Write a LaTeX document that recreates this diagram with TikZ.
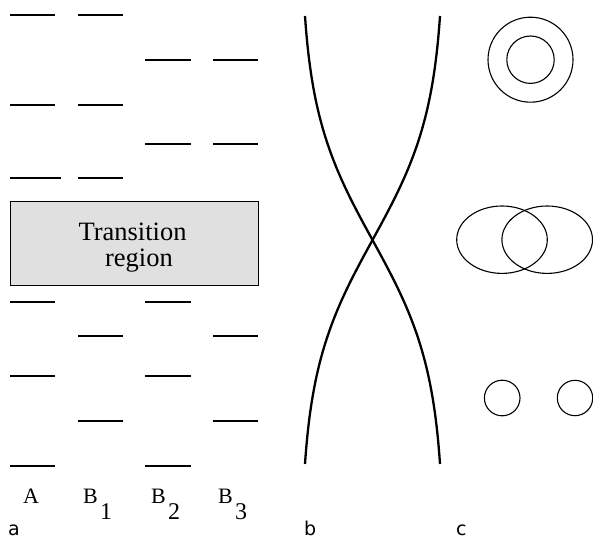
\documentclass[tikz,border=0pt]{standalone}
\usepackage{fontspec}
\setmainfont{Liberation Serif}
\newfontfamily\labfont{DejaVu Sans}
\begin{document}
\begin{tikzpicture}[x=1pt,y=-1pt,
  level/.style={line width=2.7pt},
  curve/.style={line width=2.3pt},
  orb/.style={line width=1.1pt},
  lab/.style={font=\fontsize{22}{24}\selectfont, anchor=base west, inner sep=0pt},
  sub/.style={font=\fontsize{24}{26}\selectfont, anchor=base west, inner sep=0pt},
  panel/.style={font=\labfont\fontsize{19}{21}\selectfont, anchor=base west, inner sep=0pt}]
\useasboundingbox (0,0) rectangle (593,540);
% panel a: levels
\foreach \y in {15,105} \draw[level] (10,\y) -- (55,\y);
\draw[level] (10,178) -- (61,178);
\foreach \y in {302,376,466} \draw[level] (10,\y) -- (55,\y);
\foreach \y in {15,105,178,336,421} \draw[level] (78,\y) -- (123,\y);
\foreach \y in {60,144,302,376,466} \draw[level] (145,\y) -- (191,\y);
\foreach \y in {60,144,336,421} \draw[level] (213,\y) -- (258,\y);
% transition box
\node[draw, line width=1.2pt, fill={rgb,255:red,224;green,224;blue,224}, minimum width=248pt, minimum height=84pt, inner sep=0pt, anchor=north west] (box) at (10,201) {};
\node[font=\fontsize{26.5}{28}\selectfont, anchor=base, inner sep=0pt] (t1) at (132.5,240) {Transition};
\node[font=\fontsize{26.5}{28}\selectfont, anchor=base, inner sep=0pt] (t2) at (139,266) {region};
% column labels
\node[lab] (lA) at (23,503) {A};
\node[lab] (lB1) at (83,503) {B};
\node[sub] (s1) at (100,519) {1};
\node[lab] (lB2) at (151,503) {B};
\node[sub] (s2) at (168,519) {2};
\node[lab] (lB3) at (218,503) {B};
\node[sub] (s3) at (235,519) {3};
% panel b: crossing curves
\draw[curve] plot[domain=-1:1, samples=80, smooth] ({372.5 + 67.5*tanh(1.7*\x)/tanh(1.7)}, {240 + 224*\x});
\draw[curve] plot[domain=-1:1, samples=80, smooth] ({372.5 - 67.5*tanh(1.7*\x)/tanh(1.7)}, {240 + 224*\x});
% panel c: orbitals
\draw[orb] (530.5,59.7) circle (42.5);
\draw[orb] (530.5,59.7) circle (23.7);
\draw[orb] (502,239.7) ellipse (45.3 and 33.7);
\draw[orb] (547.2,239.7) ellipse (45.3 and 33.7);
\draw[orb] (502.2,398) circle (17.8);
\draw[orb] (575,398) circle (17.7);
% panel letters
\node[panel] (pa) at (8,535.5) {a};
\node[panel] (pb) at (304,535.5) {b};
\node[panel] (pc) at (456,535.5) {c};
\end{tikzpicture}
\end{document}
